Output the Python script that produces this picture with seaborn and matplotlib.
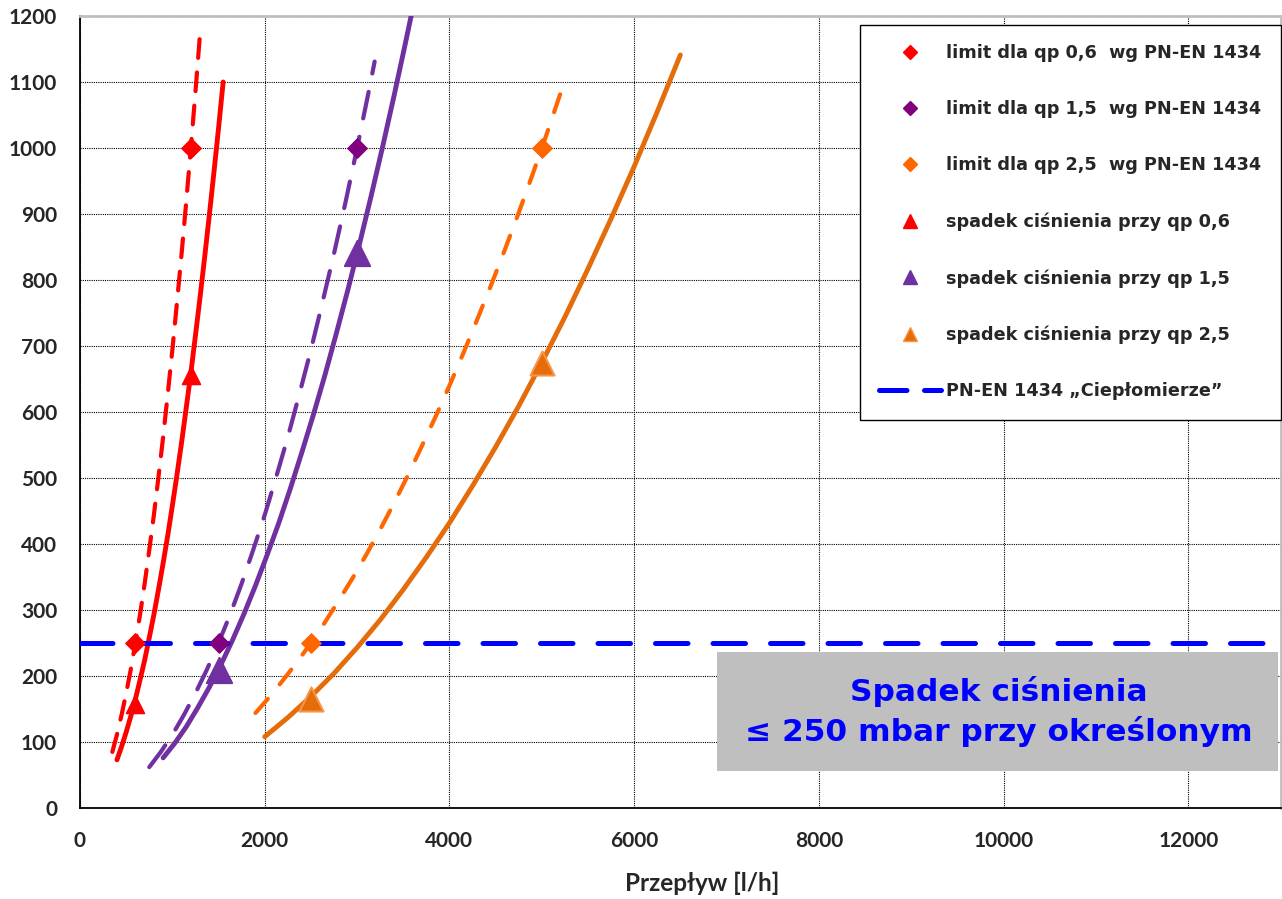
import matplotlib
matplotlib.use("Agg")
import matplotlib.pyplot as plt
from matplotlib.lines import Line2D
from matplotlib.patches import Rectangle
from matplotlib.ticker import MultipleLocator
import seaborn as sns

# ---- data ----
# limit curves wg PN-EN 1434 (dashed)
lim06_x = [350, 400, 450, 500, 550, 600, 650, 700, 750, 800, 850, 900, 950, 1000,
           1050, 1100, 1150, 1200, 1250, 1300]
lim06_y = [85, 111, 141, 174, 210, 250, 293, 340, 391, 444, 502, 562, 627, 694,
           766, 840, 918, 1000, 1085, 1174]
lim15_x = [750, 875, 1000, 1125, 1250, 1375, 1500, 1625, 1750, 1875, 2000, 2125, 2250,
           2375, 2500, 2625, 2750, 2875, 3000, 3125, 3190]
lim15_y = [62, 85, 111, 141, 174, 210, 250, 293, 340, 391, 444, 502, 562,
           627, 694, 766, 840, 918, 1000, 1085, 1131]
lim25_x = [1900, 2050, 2200, 2350, 2500, 2650, 2800, 2950, 3100, 3250, 3400, 3550,
           3700, 3850, 4000, 4150, 4300, 4450, 4600, 4750, 4900, 5050, 5200]
lim25_y = [144, 168, 194, 221, 250, 281, 314, 348, 384, 422, 462, 504,
           548, 593, 640, 689, 740, 792, 846, 902, 960, 1020, 1082]

# measured pressure drop curves (solid)
sp06_x = [400, 450, 500, 550, 600, 650, 700, 750, 800, 850, 900, 950, 1000, 1050,
          1100, 1150, 1200, 1250, 1300, 1350, 1400, 1450, 1500, 1550]
sp06_y = [73, 93, 115, 139, 165, 194, 224, 258, 293, 331, 371, 413, 458, 505,
          554, 606, 659, 716, 774, 835, 898, 963, 1030, 1100]
sp15_x = [900, 1025, 1150, 1275, 1400, 1525, 1650, 1775, 1900, 2025, 2150, 2275,
          2400, 2525, 2650, 2775, 2900, 3025, 3150, 3275, 3400, 3525, 3650]
sp15_y = [76, 98, 123, 152, 183, 217, 254, 294, 337, 383, 431, 483,
          538, 595, 655, 719, 785, 854, 926, 1001, 1079, 1160, 1243]
sp25_x = [2000, 2250, 2500, 2750, 3000, 3250, 3500, 3750, 4000, 4250, 4500, 4750,
          5000, 5250, 5500, 5750, 6000, 6250, 6500]
sp25_y = [108, 137, 169, 204, 243, 285, 331, 380, 432, 488, 547, 609,
          675, 744, 817, 893, 972, 1055, 1141]

# marker points
lim_pts = {
    "06": ([600, 1200], [250, 1000]),
    "15": ([1500, 3000], [250, 1000]),
    "25": ([2500, 5000], [250, 1000]),
}
sp_pts = {
    "06": ([600, 1200], [157, 656]),
    "15": ([1500, 3000], [209, 841]),
    "25": ([2500, 5000], [165, 674]),
}
norm_limit = 250

labels = ["limit dla qp 0,6  wg PN-EN 1434",
          "limit dla qp 1,5  wg PN-EN 1434",
          "limit dla qp 2,5  wg PN-EN 1434",
          "spadek ciśnienia przy qp 0,6",
          "spadek ciśnienia przy qp 1,5",
          "spadek ciśnienia przy qp 2,5",
          "PN-EN 1434 „Ciepłomierze”"]

RED = "#FF0000"
PURPLE = "#7030A0"
PURPLE_D = "#800080"
ORANGE = "#FF6600"
ORANGE_S = "#E46C0A"
BLUE = "#0000FF"

sns.set_style("white")
plt.rcParams["font.family"] = ["Lato", "DejaVu Sans"]
plt.rcParams["font.weight"] = "bold"

fig = plt.figure(figsize=(12.82, 8.99), dpi=100)
ax = fig.add_axes([0.0624, 0.1012, 0.9366, 0.881])

# dashed limit curves
for xs, ys, c, dsh in [(lim06_x, lim06_y, RED, (4.5, 3.5)),
                       (lim15_x, lim15_y, PURPLE, (6.5, 4.5)),
                       (lim25_x, lim25_y, ORANGE, (4.5, 4.5))]:
    sns.lineplot(x=xs, y=ys, ax=ax, color=c, linewidth=3, sort=False,
                 linestyle=(0, dsh), dash_capstyle="round", zorder=4)

# solid measured curves
for xs, ys, c in [(sp06_x, sp06_y, RED), (sp15_x, sp15_y, PURPLE), (sp25_x, sp25_y, ORANGE_S)]:
    sns.lineplot(x=xs, y=ys, ax=ax, color=c, linewidth=3.5, sort=False,
                 solid_capstyle="round", solid_joinstyle="round", zorder=4)

# norm line
ax.axhline(norm_limit, color=BLUE, linewidth=3.6, linestyle=(0, (6.5, 5)),
           dash_capstyle="round", zorder=5)

# markers
sns.scatterplot(x=lim_pts["06"][0], y=lim_pts["06"][1], ax=ax, marker="D", s=100,
                color=RED, edgecolor=RED, zorder=6)
sns.scatterplot(x=lim_pts["15"][0], y=lim_pts["15"][1], ax=ax, marker="D", s=100,
                color=PURPLE_D, edgecolor=PURPLE_D, zorder=6)
sns.scatterplot(x=lim_pts["25"][0], y=lim_pts["25"][1], ax=ax, marker="D", s=100,
                color=ORANGE, edgecolor=ORANGE, zorder=6)
sns.scatterplot(x=sp_pts["06"][0], y=sp_pts["06"][1], ax=ax, marker="^", s=170,
                color=RED, edgecolor=RED, zorder=6)
sns.scatterplot(x=sp_pts["15"][0], y=sp_pts["15"][1], ax=ax, marker="^", s=330,
                color=PURPLE, edgecolor=PURPLE, zorder=6)
sns.scatterplot(x=sp_pts["25"][0], y=sp_pts["25"][1], ax=ax, marker="^", s=300,
                color=ORANGE_S, edgecolor="#F79646", linewidth=1.5, zorder=6)

# grey note box
ax.add_patch(Rectangle((6900, 56), 6070, 180, facecolor="#BFBFBF", edgecolor="none", zorder=3))
ax.text(9946, 146, "Spadek ciśnienia\n≤ 250 mbar przy określonym", ha="center", va="center",
        color=BLUE, fontsize=22.5, fontweight="bold", linespacing=1.35,
        family=["DejaVu Sans"], zorder=7)

# axes
ax.set_xlim(0, 13000)
ax.set_ylim(0, 1200)
ax.xaxis.set_major_locator(MultipleLocator(2000))
ax.xaxis.set_minor_locator(MultipleLocator(500))
ax.yaxis.set_major_locator(MultipleLocator(100))
ax.yaxis.set_minor_locator(MultipleLocator(50))
ax.grid(True, which="major", color="black", linestyle=(0, (1, 1)), linewidth=0.8)
ax.set_axisbelow(True)
ax.tick_params(which="major", direction="inout", length=11, width=1.1, color="black",
               pad=11, labelsize=15)
ax.tick_params(which="minor", direction="inout", length=8, width=1.1, color="black")
for side in ["left", "bottom"]:
    ax.spines[side].set_color("black")
    ax.spines[side].set_linewidth(1.3)
for side in ["top", "right"]:
    ax.spines[side].set_color("#BFBFBF")
    ax.spines[side].set_linewidth(2)
ax.set_xlabel("Przepływ [l/h]", fontsize=17.5, fontweight="bold", labelpad=15)
ax.xaxis.label.set_x(0.518)
ax.set_ylabel("")

# legend
handles = [
    Line2D([], [], linestyle="none", marker="D", markersize=7.5, color=RED),
    Line2D([], [], linestyle="none", marker="D", markersize=7.5, color=PURPLE_D),
    Line2D([], [], linestyle="none", marker="D", markersize=7.5, color=ORANGE),
    Line2D([], [], linestyle="none", marker="^", markersize=10.5, color=RED),
    Line2D([], [], linestyle="none", marker="^", markersize=10.5, color=PURPLE),
    Line2D([], [], linestyle="none", marker="^", markersize=10.5, color=ORANGE_S,
           markeredgecolor="#F79646"),
    Line2D([], [], color=BLUE, linewidth=3.6, linestyle=(0, (5.5, 3.5)), dash_capstyle="round"),
]
leg = ax.legend(handles, labels, loc="upper right", bbox_to_anchor=(1.0, 0.989),
                borderaxespad=0, frameon=True, fancybox=False, framealpha=1,
                edgecolor="black", facecolor="white", handlelength=3.5,
                handletextpad=0.3, labelspacing=2.16, borderpad=1.1,
                prop={"family": "DejaVu Sans", "weight": "bold", "size": 12.7})
leg.get_frame().set_linewidth(1.0)
leg.set_zorder(10)

fig.savefig("out.png", dpi=100)
